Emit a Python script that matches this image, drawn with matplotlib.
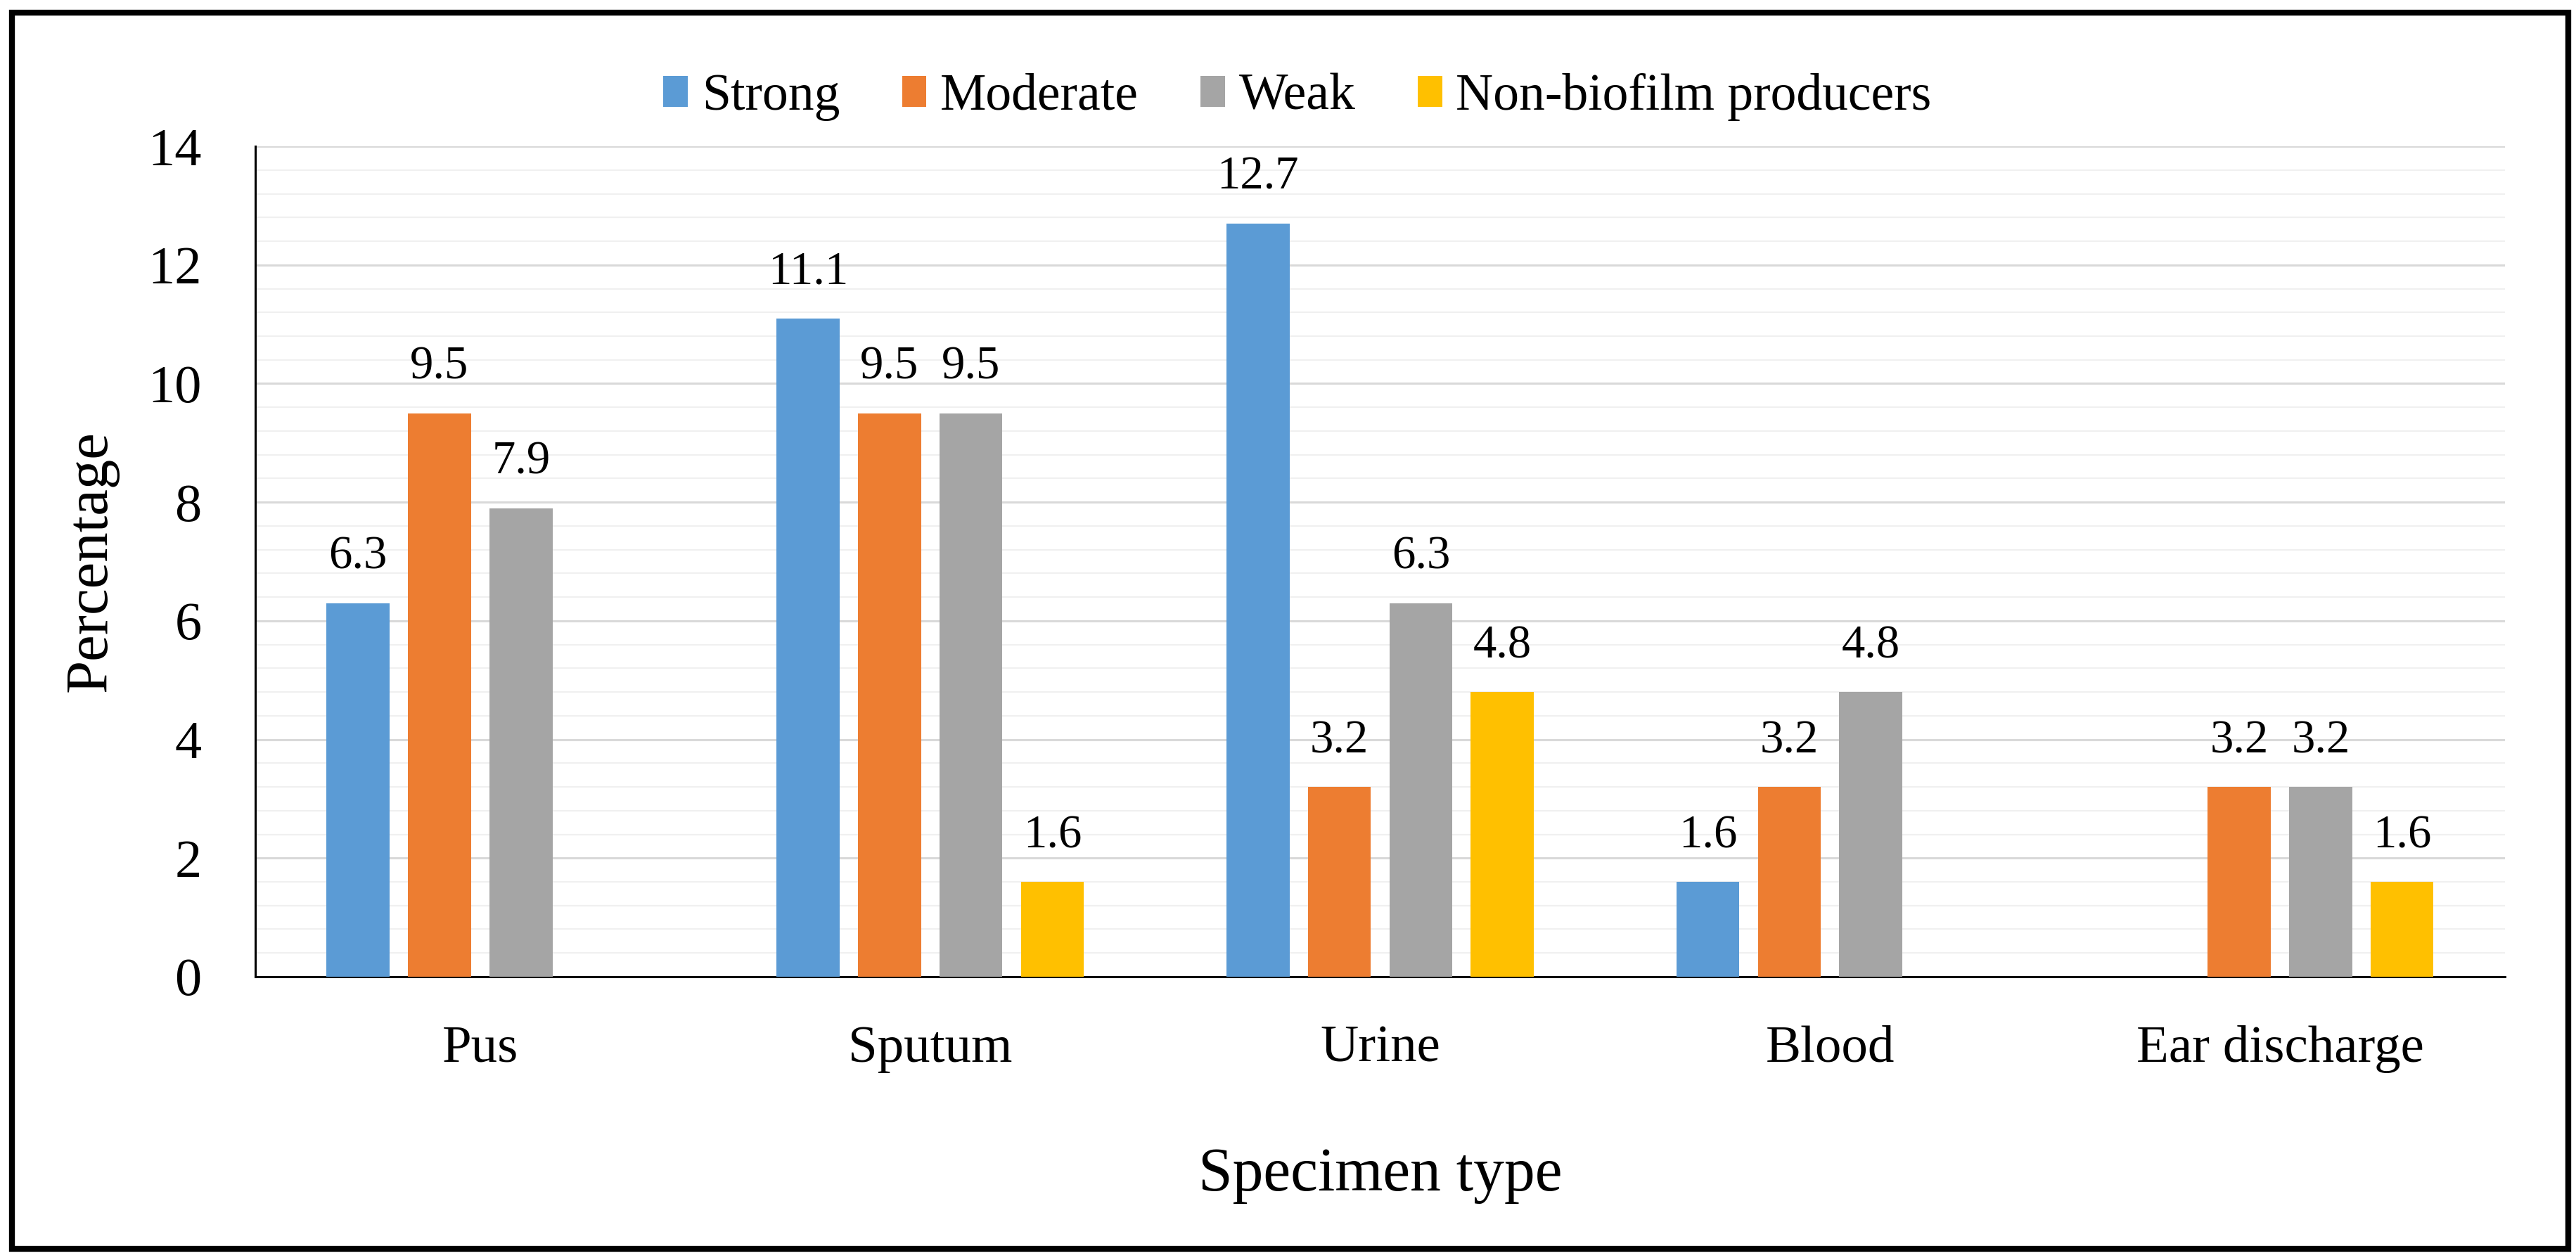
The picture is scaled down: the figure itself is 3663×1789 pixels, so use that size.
import matplotlib
matplotlib.use("Agg")
import matplotlib.pyplot as plt
from matplotlib.patches import Rectangle
from matplotlib.ticker import MultipleLocator
import numpy as np

categories = ["Pus", "Sputum", "Urine", "Blood", "Ear discharge"]
series_names = ["Strong", "Moderate", "Weak", "Non-biofilm producers"]
strong = [6.3, 11.1, 12.7, 1.6, 0.0]
moderate = [9.5, 9.5, 3.2, 3.2, 3.2]
weak = [7.9, 9.5, 6.3, 4.8, 3.2]
non_biofilm = [0.0, 1.6, 4.8, 0.0, 1.6]
colors = ["#5B9BD5", "#ED7D31", "#A5A5A5", "#FFC000"]

plt.rcParams['font.family'] = ['Liberation Serif', 'DejaVu Serif']

fig = plt.figure(figsize=(36.63, 17.89), dpi=100)
ax = fig.add_axes([0.0991, 0.2236, 0.9724 - 0.0991, 0.8837 - 0.2236])

x = np.arange(len(categories))
width = 0.14
step = 0.181
series = [strong, moderate, weak, non_biofilm]
for i, (vals, name, c) in enumerate(zip(series, series_names, colors)):
    pos = x + (i - 1.5) * step
    bars = ax.bar(pos, vals, width=width, color=c, label=name, zorder=3)
    for b, v in zip(bars, vals):
        if v > 0:
            ax.annotate(f"{v:.1f}", (b.get_x() + b.get_width() / 2, v),
                        xytext=(0, 25), textcoords="offset points",
                        ha="center", va="bottom", fontsize=48)

ax.set_xlim(-0.5, len(categories) - 0.5)
ax.set_ylim(0, 14)
ax.yaxis.set_major_locator(MultipleLocator(2))
ax.yaxis.set_minor_locator(MultipleLocator(0.4))
ax.grid(axis='y', which='major', color='#D9D9D9', linewidth=2.2, zorder=0)
ax.grid(axis='y', which='minor', color='#F0F0F0', linewidth=1.6, zorder=0)
ax.set_axisbelow(True)

ax.set_xticks(x)
ax.set_xticklabels(categories, fontsize=54)
ax.tick_params(axis='x', length=0, pad=50)
ax.tick_params(axis='y', which='both', length=0, pad=55, labelsize=55)

for s in ['top', 'right']:
    ax.spines[s].set_visible(False)
ax.spines['left'].set_linewidth(2.2)
ax.spines['bottom'].set_linewidth(2.2)
ax.spines['left'].set_color('black')
ax.spines['bottom'].set_color('black')

ax.set_ylabel("Percentage", fontsize=61, labelpad=30)
ax.set_xlabel("Specimen type", fontsize=63, labelpad=75)

leg = fig.legend(loc='center', bbox_to_anchor=(1845 / 3663, 0.923), ncol=4, frameon=False,
                 fontsize=53, handlelength=0.47, handleheight=0.54,
                 handletextpad=0.27, columnspacing=1.2)

fig.patches.append(Rectangle((0.0046, 0.0073), 0.997 - 0.0046, 0.99 - 0.0073,
                             transform=fig.transFigure, fill=False,
                             edgecolor='black', linewidth=6, zorder=10))

fig.savefig("out.png", dpi=100, facecolor='white')
